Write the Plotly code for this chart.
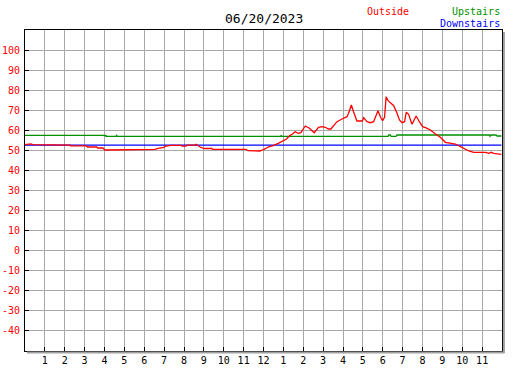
import plotly.graph_objects as go

# Outside temperature (hours since midnight, degrees F)
outside_hours = [0.0, 0.29, 0.39, 1.08, 1.12, 2.28, 2.30, 3.09, 3.14, 3.61, 3.66, 3.92,
                 4.02, 4.42, 4.47, 4.77, 4.82, 5.11, 5.18, 6.54, 6.69, 6.99, 7.09, 7.34,
                 7.85, 7.90, 8.10, 8.15, 8.55, 8.60, 8.70, 8.81, 9.01, 9.40, 9.44, 10.91,
                 10.97, 11.12, 11.22, 11.73, 11.83, 11.93, 12.03, 12.23, 12.48, 12.74, 12.92,
                 13.14, 13.34, 13.44, 13.59, 13.75, 13.88, 14.10, 14.31, 14.55, 14.77, 14.94,
                 15.11, 15.27, 15.39, 15.70, 15.95, 16.11, 16.20, 16.28, 16.42, 16.53, 16.70,
                 16.97, 17.04, 17.21, 17.38, 17.54, 17.68, 17.76, 17.88, 17.99, 18.09, 18.17,
                 18.27, 18.38, 18.55, 18.72, 18.84, 18.97, 19.10, 19.18, 19.30, 19.47, 19.68,
                 19.84, 20.01, 20.15, 20.40, 20.65, 20.90, 21.15, 21.40, 21.66, 21.91, 22.08,
                 22.33, 22.58, 23.17, 23.34, 23.46, 23.59, 23.84, 23.97]
outside_temp = [52.9, 53.3, 52.9, 52.9, 52.7, 52.7, 52.3, 52.3, 51.75, 51.75, 51.25, 51.25,
                50.25, 50.25, 50.6, 50.6, 50.25, 50.25, 50.6, 50.6, 51.1, 51.6, 52.25, 52.6,
                52.6, 52.2, 52.2, 52.7, 52.7, 53.1, 52.5, 51.75, 51.0, 51.0, 50.6, 50.6,
                50.25, 50.6, 49.9, 49.9, 49.75, 50.25, 50.6, 51.75, 52.4, 53.6, 54.4,
                55.6, 57.6, 58.1, 59.4, 58.6, 58.9, 62.25, 61.1, 58.9, 61.6, 61.9,
                61.6, 60.75, 60.75, 64.4, 65.75, 66.6, 66.9, 68.6, 72.75, 69.4, 64.75,
                64.75, 66.4, 64.4, 63.9, 64.4, 68.6, 69.9, 66.9, 64.9, 66.6, 76.9,
                74.9, 74.1, 72.4, 68.6, 65.25, 63.9, 64.4, 69.1, 68.1, 63.1, 67.25,
                64.4, 61.9, 61.4, 60.25, 58.25, 56.6, 54.1, 53.6, 53.25, 51.9, 51.1,
                49.75, 49.1, 49.1, 48.6, 49.1, 48.6, 48.1, 48.1]

# Upstairs temperature
upstairs_hours = [0.0, 4.02, 4.05, 4.07, 4.10, 4.58, 4.61, 4.65, 12.87, 12.89, 12.92,
                  18.27, 18.30, 18.38, 18.42, 18.67, 18.72, 23.37, 23.40, 23.45, 23.70,
                  23.75, 23.97]
upstairs_temp = [57.6, 57.6, 57.1, 57.6, 57.1, 57.1, 57.6, 57.1, 57.1, 57.6, 57.1,
                 57.1, 57.75, 57.75, 57.1, 57.1, 57.75, 57.75, 57.1, 57.75, 57.75,
                 57.25, 57.25]

# Downstairs temperature
downstairs_hours = [0.0, 6.0, 12.0, 18.0, 23.97]
downstairs_temp = [52.7, 52.7, 52.7, 52.7, 52.7]

x_tickvals = list(range(1, 24))
x_ticktext = [str(h) for h in list(range(1, 13)) + list(range(1, 12))]
y_tickvals = list(range(-40, 101, 10))
y_ticktext = [str(v) for v in y_tickvals]

title_text = "06/20/2023"
FONT = "DejaVu Sans Mono"

fig = go.Figure()
fig.add_trace(go.Scatter(x=upstairs_hours, y=upstairs_temp, mode="lines",
                         line=dict(color="#009000", width=1.3), showlegend=False))
fig.add_trace(go.Scatter(x=downstairs_hours, y=downstairs_temp, mode="lines",
                         line=dict(color="#0000ff", width=1.3), showlegend=False))
fig.add_trace(go.Scatter(x=outside_hours, y=outside_temp, mode="lines",
                         line=dict(color="#ff0000", width=1.3), showlegend=False))

fig.update_layout(
    width=527, height=370,
    margin=dict(l=25, r=25, t=30, b=19, autoexpand=False),
    paper_bgcolor="white", plot_bgcolor="white",
    font=dict(family=FONT, size=10, color="black"),
    xaxis=dict(range=[0, 24], tickvals=x_tickvals, ticktext=x_ticktext,
               ticks="inside", ticklen=4, tickcolor="black", tickwidth=1,
               showgrid=True, gridcolor="#a8a8a8", gridwidth=1, automargin=False,
               showline=True, linecolor="black", linewidth=1, mirror=True,
               zeroline=False, tickfont=dict(family=FONT, size=10, color="black")),
    yaxis=dict(range=[-50.25, 110.25], tickvals=y_tickvals, ticktext=y_ticktext,
               ticks="inside", ticklen=4, tickcolor="black", tickwidth=1,
               showgrid=True, gridcolor="#a8a8a8", gridwidth=1, automargin=False,
               showline=True, linecolor="black", linewidth=1, mirror=True,
               ticklabelstandoff=2,
               zeroline=False, tickfont=dict(family=FONT, size=10, color="#ff0000")),
    annotations=[
        dict(text=title_text, xref="paper", yref="paper", x=0.5, y=1.0, yshift=12,
             xanchor="center", yanchor="middle", showarrow=False,
             font=dict(family=FONT, size=13, color="black")),
        dict(text="Outside", xref="paper", yref="paper", x=0.81, y=1.0, yshift=19,
             xanchor="right", yanchor="middle", showarrow=False,
             font=dict(family=FONT, size=10, color="#ff0000")),
        dict(text="Upstairs", xref="paper", yref="paper", x=1.0, y=1.0, yshift=19,
             xanchor="right", yanchor="middle", showarrow=False,
             font=dict(family=FONT, size=10, color="#009000")),
        dict(text="Downstairs", xref="paper", yref="paper", x=1.0, y=1.0, yshift=7,
             xanchor="right", yanchor="middle", showarrow=False,
             font=dict(family=FONT, size=10, color="#0000ff")),
    ],
    shapes=[
        dict(type="line", xref="paper", yref="paper", x0=1.004, x1=1.004, y0=-0.006, y1=0.994,
             line=dict(color="#a0a0a0", width=2)),
        dict(type="line", xref="paper", yref="paper", x0=0.004, x1=1.005, y0=-0.005, y1=-0.005,
             line=dict(color="#a0a0a0", width=2)),
    ],
)

fig.write_html("out.html", config={"displayModeBar": False},
               post_script="document.body.style.margin='0';document.body.style.padding='0';")
